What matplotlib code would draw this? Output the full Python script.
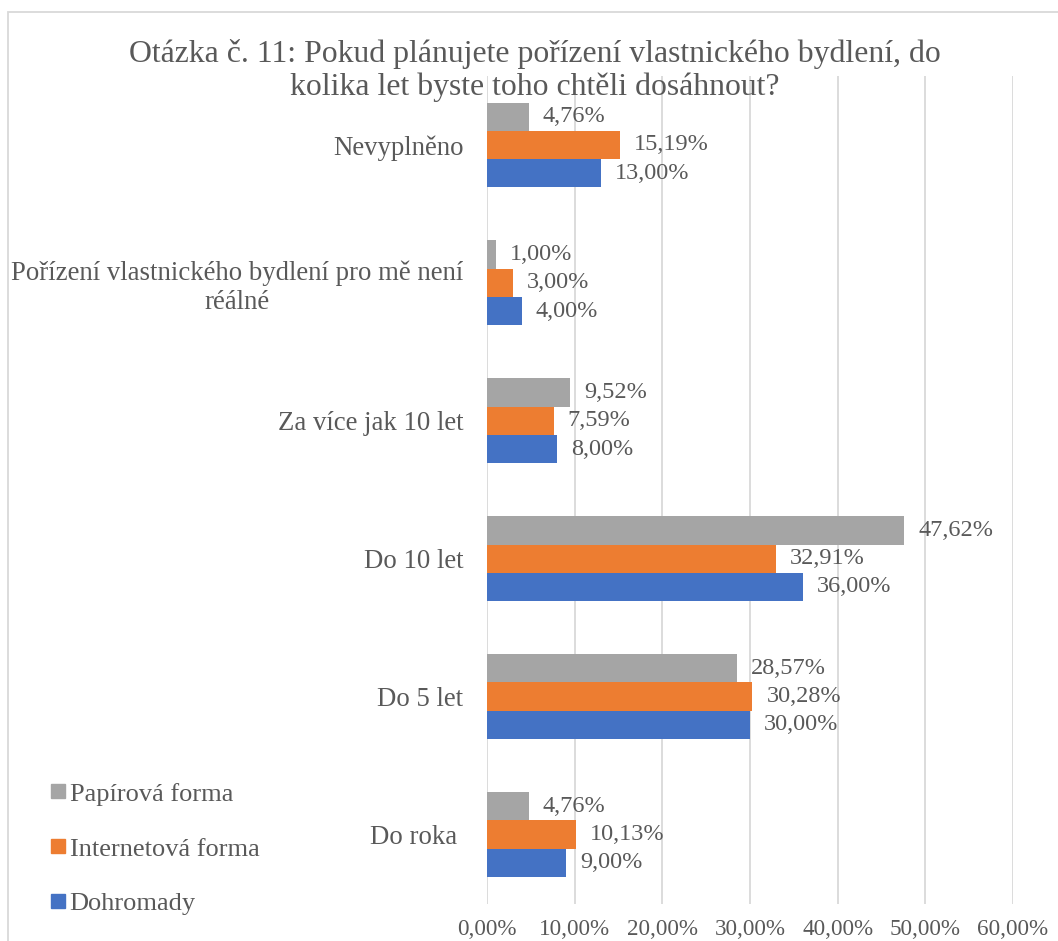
import matplotlib.pyplot as plt
from matplotlib.lines import Line2D
from matplotlib.patches import Rectangle
from matplotlib.ticker import FuncFormatter

plt.rcParams['font.family'] = ['Liberation Serif', 'DejaVu Serif']

categories = ["Do roka ", "Do 5 let", "Do 10 let", "Za více jak 10 let",
              "Pořízení vlastnického bydlení pro mě není\nréálné", "Nevyplněno"]
papirova = [4.76, 28.57, 47.62, 9.52, 1.00, 4.76]
internetova = [10.13, 30.28, 32.91, 7.59, 3.00, 15.19]
dohromady = [9.00, 30.00, 36.00, 8.00, 4.00, 13.00]
series_names = ["Papírová forma", "Internetová forma", "Dohromady"]
colors = ["#A5A5A5", "#ED7D31", "#4472C4"]
txt = "#595959"

fig = plt.figure(figsize=(10.58, 9.41), dpi=100)
ax = fig.add_axes([487/1058, 1 - 903.5/941, (1013 - 487)/1058, (903.5 - 76)/941])

h = 0.205
y = list(range(len(categories)))
for vals, off, c in zip([papirova, internetova, dohromady], [h, 0, -h], colors):
    pos = [i + off for i in y]
    bars = ax.barh(pos, vals, height=h, color=c, zorder=3)
    for b, v in zip(bars, vals):
        ax.annotate(f"{v:.2f}%".replace(".", ","), (v, b.get_y() + b.get_height()/2),
                    xytext=(10, 0), textcoords="offset points", va="center", ha="left",
                    fontsize=17.5, color=txt)

ax.set_xlim(0, 60)
ax.set_ylim(-0.5, 5.5)
ax.set_xticks(range(0, 61, 10))
ax.xaxis.set_major_formatter(FuncFormatter(lambda v, p: f"{v:.2f}%".replace(".", ",")))
ax.set_yticks(y)
ax.set_yticklabels(categories)
for lab in ax.get_yticklabels():
    lab.set_multialignment("center")
ax.tick_params(axis="x", length=0, pad=11, labelsize=16.7, labelcolor=txt)
ax.tick_params(axis="y", length=0, pad=17, labelsize=19.3, labelcolor=txt)
ax.grid(axis="x", color="#D9D9D9", linewidth=1.3, zorder=0)
for s in ax.spines.values():
    s.set_visible(False)

fig.text(535/1058, 1 - 95/941,
         "Otázka č. 11: Pokud plánujete pořízení vlastnického bydlení, do\nkolika let byste toho chtěli dosáhnout?",
         ha="center", va="baseline", fontsize=22.9, color=txt, linespacing=1.17)

# outer chart border
fig.patches.append(Rectangle((8/1058, -0.1), 1.2, 1 - 12/941 + 0.1, transform=fig.transFigure,
                             fill=False, edgecolor="#D9D9D9", linewidth=1.3))

handles = [Line2D([], [], marker="s", linestyle="none", color=c, markersize=10) for c in colors]
fig.legend(handles, series_names, loc="upper left", bbox_to_anchor=(38/1058, 1 - 769/941),
           frameon=False, fontsize=19, labelcolor=txt, handlelength=0.55, handletextpad=0.15,
           labelspacing=1.19, borderpad=0)

fig.savefig("out.png", dpi=100)
